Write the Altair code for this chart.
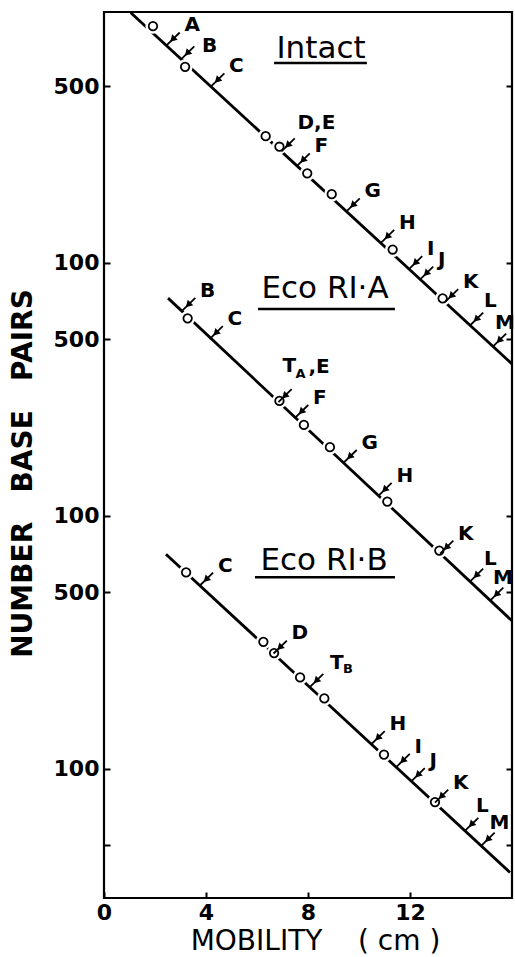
import altair as alt
import pandas as pd

FONT = "DejaVu Sans"
NBSP = "\u00a0"

# Three gels share one log axis: each is drawn one decade below the previous one.
PANEL_SHIFT = {"Intact": 100, "Eco RI·A": 10, "Eco RI·B": 1}

# Calibration lines (mobility in cm, size in base pairs) at both ends
line_panel = ["Intact", "Intact", "Eco RI·A", "Eco RI·A", "Eco RI·B", "Eco RI·B"]
line_mob = [1.05, 16.0, 2.51, 16.0, 2.43, 15.92]
line_bp = [975, 39.9, 726, 38.5, 706, 39.0]

# Size-marker fragments (open circles)
intact_marker_mob = [1.92, 3.18, 6.34, 6.88, 7.97, 8.93, 11.32, 13.28]
intact_marker_bp = [863, 596, 317, 288, 226, 187, 113, 72.4]
ecoa_marker_mob = [3.28, 6.88, 7.84, 8.86, 11.11, 13.15]
ecoa_marker_bp = [604, 285, 229, 187, 114, 73]
ecob_marker_mob = [3.22, 6.25, 6.67, 7.69, 8.64, 10.98, 12.98]
ecob_marker_bp = [598, 318, 287, 230, 190, 114, 74]

# Fragment bands (arrows)
intact_band = ["A", "B", "C", "D,E", "F", "G", "H", "I", "J", "K", "L", "M"]
intact_band_mob = [2.45, 3.02, 4.20, 6.96, 7.55, 9.51, 10.86, 11.96, 12.39, 13.37, 14.35, 15.25]
intact_band_bp = [724, 638, 499, 276, 241, 160, 120, 94.6, 86, 70, 56.6, 46.7]
ecoa_band = ["B", "C", "TA,E", "F", "G", "H", "K", "L", "M"]
ecoa_band_mob = [3.06, 4.14, 6.84, 7.49, 9.39, 10.76, 13.18, 14.35, 15.14]
ecoa_band_bp = [647, 500, 282, 244, 162, 120, 71, 55, 46.3]
ecob_band = ["C", "D", "TB", "H", "I", "J", "K", "L", "M"]
ecob_band_mob = [3.76, 6.65, 8.08, 10.49, 11.47, 12.06, 12.98, 14.16, 14.8]
ecob_band_bp = [531, 286, 211, 125.5, 102, 89.6, 73.6, 57, 49.8]

# Gel names with their underline span
title_panel = ["Intact", "Eco RI·A", "Eco RI·B"]
title_mob = [8.51, 8.67, 8.63]
title_bp = [704, 788, 663]
underline_mob_start = [6.67, 6.04, 5.92]
underline_mob_end = [10.31, 11.41, 11.41]
underline_bp = [617, 657, 573]

y_tick_values = [50, 100, 500, 1000, 5000, 10000, 50000]
x_tick_values = [0, 4, 8, 12]


def shift(panel, bp):
    return bp * PANEL_SHIFT[panel]


lines = pd.DataFrame({"panel": line_panel, "mob": line_mob, "bp": line_bp})
lines["y"] = [shift(p, b) for p, b in zip(lines.panel, lines.bp)]

markers = pd.concat([
    pd.DataFrame({"panel": "Intact", "mob": intact_marker_mob, "bp": intact_marker_bp}),
    pd.DataFrame({"panel": "Eco RI·A", "mob": ecoa_marker_mob, "bp": ecoa_marker_bp}),
    pd.DataFrame({"panel": "Eco RI·B", "mob": ecob_marker_mob, "bp": ecob_marker_bp}),
], ignore_index=True)
markers["y"] = [shift(p, b) for p, b in zip(markers.panel, markers.bp)]

bands = pd.concat([
    pd.DataFrame({"panel": "Intact", "band": intact_band, "mob": intact_band_mob, "bp": intact_band_bp}),
    pd.DataFrame({"panel": "Eco RI·A", "band": ecoa_band, "mob": ecoa_band_mob, "bp": ecoa_band_bp}),
    pd.DataFrame({"panel": "Eco RI·B", "band": ecob_band, "mob": ecob_band_mob, "bp": ecob_band_bp}),
], ignore_index=True)
bands["y"] = [shift(p, b) for p, b in zip(bands.panel, bands.bp)]
# arrow runs up and to the right of the band, head halfway along
bands["tail_x"] = bands.mob + 0.52
bands["tail_y"] = bands.y * 1.125
bands["head_x"] = bands.mob + 0.24
bands["head_y"] = bands.y * 1.056

titles = pd.DataFrame({"panel": title_panel, "mob": title_mob, "bp": title_bp,
                       "u0": underline_mob_start, "u1": underline_mob_end,
                       "ubp": underline_bp})
titles["y"] = [shift(p, b) for p, b in zip(titles.panel, titles.bp)]
titles["uy"] = [shift(p, b) for p, b in zip(titles.panel, titles.ubp)]

xscale = alt.Scale(domain=[0, 16], nice=False, zero=False)
yscale = alt.Scale(type="log", domain=[30.9, 98150], nice=False)

label_expr = ("datum.value == 50 ? '' : datum.value >= 10000 ? format(datum.value / 100, 'd') : "
              "datum.value >= 1000 ? format(datum.value / 10, 'd') : format(datum.value, 'd')")

x_title = "MOBILITY" + NBSP * 4 + "(" + NBSP + "cm" + NBSP + ")"
y_title = NBSP.join(["NUMBER", "", "", "BASE", "", "", "PAIRS"])

# ticks sit inside the frame: axes are pulled into the plot by their tick length
x_axis = alt.Axis(values=x_tick_values, orient="bottom", offset=-6, domain=False, grid=False,
                  tickSize=6, tickWidth=2, tickColor="black",
                  labelFont=FONT, labelFontSize=22, labelFontWeight="bold",
                  labelColor="black", labelPadding=4, labelFlush=False,
                  title=x_title, titleFont=FONT, titleFontSize=28,
                  titleFontWeight="normal", titleColor="black",
                  titleX=211, titleY=49, titleAlign="center", titleBaseline="middle")
y_axis_left = alt.Axis(values=y_tick_values, labelExpr=label_expr, orient="left",
                       offset=-6, domain=False, grid=False,
                       tickSize=6, tickWidth=2, tickColor="black",
                       labelFont=FONT, labelFontSize=22, labelFontWeight="bold",
                       labelColor="black", labelPadding=5,
                       title=y_title, titleFont=FONT, titleFontSize=28,
                       titleFontWeight="bold", titleColor="black", titleAngle=270,
                       titleX=-87, titleY=461, titleAlign="center", titleBaseline="middle")
y_axis_right = alt.Axis(values=y_tick_values, orient="right", labels=False,
                        offset=-6, domain=False, grid=False, title=None,
                        tickSize=6, tickWidth=2, tickColor="black")


def X(field, axis=None):
    # the x axis is shared: layers without their own spec fall back to it
    if axis is None:
        return alt.X(f"{field}:Q", scale=xscale)
    return alt.X(f"{field}:Q", scale=xscale, axis=axis)


def Y(field, axis=None):
    return alt.Y(f"{field}:Q", scale=yscale, axis=axis)


line_layer = alt.Chart(lines).mark_line(color="black", strokeWidth=2.8, clip=True).encode(
    x=X("mob", x_axis), y=Y("y", y_axis_left), detail="panel:N")

halo_layer = alt.Chart(markers).mark_point(shape="circle", filled=True, color="white",
                                          size=230, opacity=1).encode(
    x=X("mob"), y=Y("y", y_axis_right))

circle_layer = alt.Chart(markers).mark_point(shape="circle", filled=False, color="black",
                                            size=72, strokeWidth=1.8, opacity=1).encode(
    x=X("mob"), y=Y("y"))

arrow_shaft = alt.Chart(bands).mark_rule(color="black", strokeWidth=1.8).encode(
    x=X("mob"), y=Y("y"), x2="tail_x:Q", y2="tail_y:Q")

arrow_head = alt.Chart(bands).mark_point(shape="triangle-down", angle=45, filled=True,
                                        color="black", size=60, opacity=1).encode(
    x=X("head_x"), y=Y("head_y"))

text_style = dict(font=FONT, fontSize=20, fontWeight="bold", color="black",
                  align="left", baseline="middle")


def band_text(df, dx, dy, text=None, size=20):
    enc = dict(x=X("mob"), y=Y("y"))
    enc["text"] = alt.value(text) if text is not None else alt.Text("band:N")
    style = dict(text_style, fontSize=size)
    return alt.Chart(df).mark_text(dx=dx, dy=dy, **style).encode(**enc)


special = {
    ("Intact", "B"): (21, -13), ("Intact", "D,E"): (16, -28),
    ("Intact", "L"): (14, -24), ("Eco RI·A", "L"): (14, -23), ("Eco RI·B", "L"): (11, -25),
    ("Intact", "M"): (2, -24), ("Eco RI·A", "M"): (3, -23), ("Eco RI·B", "M"): (8, -23),
}
compound = {"TA,E", "TB"}
keys = list(zip(bands.panel, bands.band))
plain = bands[[k not in special and k[1] not in compound for k in keys]]

label_layers = [band_text(plain, 18, -20)]
for (panel, band), (dx, dy) in special.items():
    label_layers.append(band_text(bands[(bands.panel == panel) & (bands.band == band)], dx, dy))

ta = bands[bands.band == "TA,E"]
label_layers += [band_text(ta, 4, -36, "T"), band_text(ta, 17, -28, "A", 13),
                 band_text(ta, 30, -35, ",E")]
tb = bands[bands.band == "TB"]
label_layers += [band_text(tb, 20, -24, "T"), band_text(tb, 33, -18, "B", 13)]

title_layer = alt.Chart(titles).mark_text(font=FONT, fontSize=31, color="black",
                                          align="center", baseline="middle").encode(
    x=X("mob"), y=Y("y"), text="panel:N")
underline_layer = alt.Chart(titles).mark_rule(color="black", strokeWidth=2.5).encode(
    x=X("u0"), x2="u1:Q", y=Y("uy"))

chart = alt.layer(
    line_layer, halo_layer, circle_layer, arrow_shaft, arrow_head,
    *label_layers, title_layer, underline_layer
).resolve_axis(x="shared", y="independent").properties(
    width=408, height=886,
    autosize=alt.AutoSizeParams(type="none"),
    padding={"left": 104, "top": 12, "right": 3, "bottom": 59},
    background="white",
).configure_view(stroke="black", strokeWidth=2.2)

chart.save("out.html", embed_options={"renderer": "svg", "actions": False})
